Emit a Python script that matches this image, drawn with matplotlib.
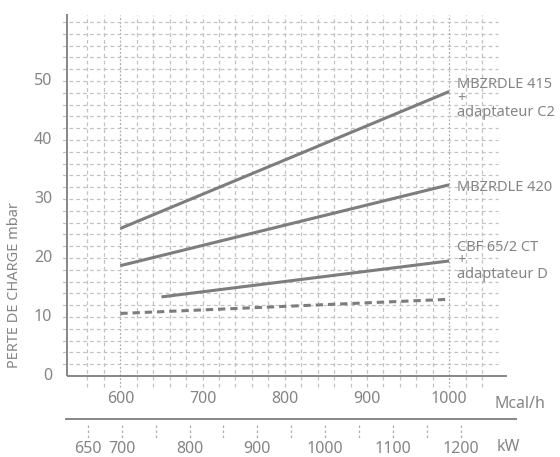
import matplotlib

matplotlib.use("Agg")

import matplotlib.pyplot as plt
import numpy as np

plt.rcParams["font.family"] = ["Noto Sans", "DejaVu Sans"]

# pressure drop curves (Mcal/h -> mbar)
gas_415_x = [600, 1000]
gas_415_y = [25.0, 48.2]
gas_420_x = [600, 1000]
gas_420_y = [18.7, 32.4]
cbf_x = [650, 1000]
cbf_y = [13.4, 19.5]
head_x = [600, 1000]
head_y = [10.6, 13.0]

y_ticks = [0, 10, 20, 30, 40, 50]
mcal_ticks = [600, 700, 800, 900, 1000]
kw_ticks = [650, 700, 800, 900, 1000, 1100, 1200]
kw_marks = list(range(650, 1201, 50))

# curve names, one line of text each, with pixel row of the baseline
curve_labels = [
    ("MBZRDLE 415", 87.5), ("+", 101.5), ("adaptateur C2", 115.5),
    ("MBZRDLE 420", 191),
    ("CBF 65/2 CT", 250.5), ("+", 264.5), ("adaptateur D", 278.5),
]

GREY = "#7d7d7d"
TXT = "#858585"
GRID = "#c2c2c2"

W, H = 560, 457
fig = plt.figure(figsize=(W / 100, H / 100), dpi=100)


def px(x0, y0, x1, y1):
    # pixel box -> figure fraction (y from top)
    return [x0 / W, 1 - y1 / H, (x1 - x0) / W, (y1 - y0) / H]


ax = fig.add_axes(px(62.8, 13.1, 510.8, 390.75))
ax.set_xlim(530, 1075)
ax.set_ylim(-2.5, 61.5)
ax.set_facecolor("none")
for s in ax.spines.values():
    s.set_visible(False)

# grid
for v in np.arange(560, 1041, 20):
    dense = v in (600, 1000)
    ax.vlines(v, -1.9, 61.2, color="#acacac" if dense else GRID, lw=0.9,
              linestyles=(0, (1.5, 1.5)) if dense else (0, (3, 2.5)), zorder=1)
for h in np.arange(2, 61, 2):
    ax.hlines(h, 529, 1060, color=GRID, lw=0.9, linestyles=(0, (3, 2.5)), zorder=1)

# axes lines
ax.vlines(535, 0, 61.3, color=GREY, lw=1.3, zorder=3)
ax.hlines(0, 535, 1070, color=GREY, lw=1.3, zorder=3)

ax.plot(gas_415_x, gas_415_y, color=GREY, lw=2.2, solid_capstyle="butt", zorder=4)
ax.plot(gas_420_x, gas_420_y, color=GREY, lw=2.2, solid_capstyle="butt", zorder=4)
ax.plot(cbf_x, cbf_y, color=GREY, lw=2.2, solid_capstyle="butt", zorder=4)
ax.plot(head_x, head_y, color=GREY, lw=2.2, dashes=(2.4, 1.6), zorder=4)

ax.set_xticks([])
ax.set_yticks([])
for t in y_ticks:
    ax.text(517, t, str(t), ha="right", va="center", fontsize=11.5, color=TXT)
for t in mcal_ticks:
    ax.text(t, -3.9, str(t), ha="center", va="center", fontsize=11.5, color=TXT,
            clip_on=False)

for txt, row in curve_labels:
    fig.text(457 / W, 1 - row / H, txt, fontsize=10.5, color=TXT, va="baseline",
             ha="left")

fig.text(15 / W, 1 - 285 / H, "PERTE DE CHARGE mbar", rotation=90, ha="center",
         va="center", fontsize=10.5, color=TXT)
fig.text(494 / W, 1 - 404 / H, "Mcal/h", ha="left", va="center", fontsize=11.5, color=TXT)
fig.text(32 / W, 1 - 4 / H, "RLS 400", ha="left", va="bottom", fontsize=15,
         fontweight="bold", color="#6a6a6a")

# kW scale
ax2 = fig.add_axes(px(62.8, 405, 510.8, 457))
ax2.set_xlim(613.1, 1273.9)
ax2.set_ylim(457, 405)
ax2.axis("off")
ax2.hlines(419.3, 616.4, 1283, color=GREY, lw=1.3, clip_on=False)
ax2.vlines(kw_marks, 425, 438, color="#acacac", lw=0.9, linestyles=(0, (2, 2)))
for t in kw_ticks:
    ax2.text(t, 449, str(t), ha="center", va="center", fontsize=11.5, color=TXT)
fig.text(497 / W, 1 - 447 / H, "kW", ha="left", va="center", fontsize=11.5, color=TXT)

fig.savefig("out.png", dpi=100)
